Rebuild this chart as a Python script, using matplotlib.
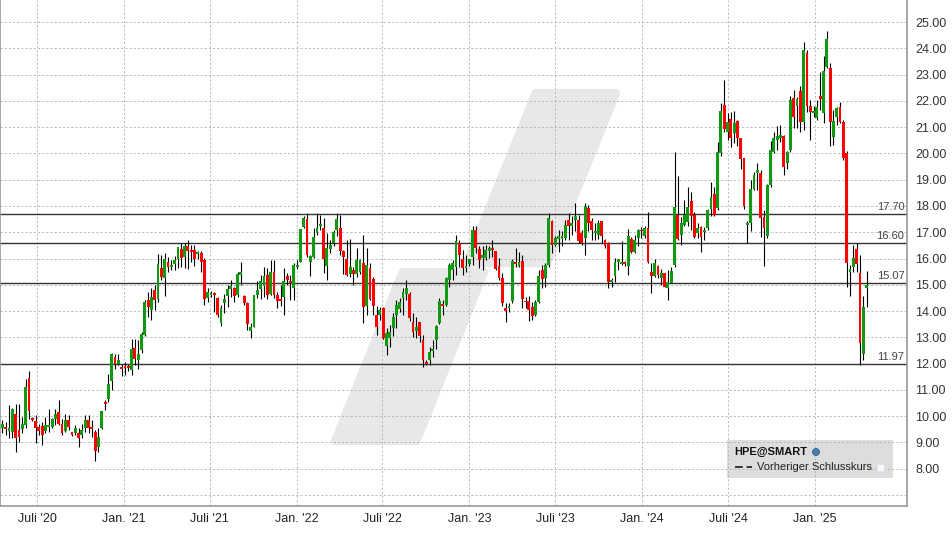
import matplotlib
matplotlib.use("Agg")
import matplotlib.pyplot as plt
import matplotlib.dates as mdates
from matplotlib.patches import Polygon, Rectangle, Ellipse
from matplotlib.lines import Line2D
import matplotlib.transforms as mtransforms
import pandas as pd
import numpy as np

# weekly HPE candles
opens = [9.53, 9.59, 9.43, 9.40, 10.10, 9.47, 9.50, 9.68, 11.45, 9.91,
         9.83, 9.59, 9.63, 9.43, 9.59, 9.59, 9.91, 10.14, 9.72, 9.43,
         9.85, 9.38, 9.34, 9.34, 9.28, 9.55, 9.87, 9.57, 9.38, 8.83,
         9.55, 10.50, 10.64, 11.33, 12.25, 11.97, 11.87, 11.91, 11.91, 11.75,
         12.60, 12.13, 12.52, 13.10, 14.43, 14.05, 14.81, 14.45, 15.63, 15.25,
         15.88, 15.69, 15.78, 15.97, 16.35, 16.05, 16.48, 16.33, 16.33, 16.16,
         16.20, 15.95, 14.49, 14.62, 14.70, 14.48, 13.54, 14.30, 14.58, 14.83,
         14.87, 14.62, 15.38, 14.58, 14.30, 13.26, 13.41, 14.62, 14.85, 14.96,
         15.38, 14.66, 15.47, 14.62, 14.45, 14.55, 15.34, 15.16, 14.87, 15.69,
         15.88, 17.19, 17.49, 15.85, 16.07, 16.96, 17.24, 17.15, 15.72, 16.35,
         16.58, 17.09, 17.15, 16.27, 15.97, 15.41, 15.57, 15.41, 15.47, 15.82,
         14.20, 15.63, 15.22, 13.86, 13.86, 14.11, 12.68, 12.97, 13.35, 13.86,
         14.07, 14.49, 14.66, 14.66, 13.60, 13.26, 13.57, 12.88, 12.08, 12.14,
         12.49, 12.88, 13.54, 14.27, 14.24, 15.19, 15.57, 15.69, 16.58, 15.97,
         15.63, 15.79, 16.07, 17.09, 16.35, 16.01, 16.01, 16.27, 16.39, 16.27,
         15.72, 15.25, 14.11, 14.11, 14.39, 15.88, 15.72, 15.92, 14.39, 14.39,
         14.15, 13.86, 14.36, 15.57, 15.25, 15.76, 17.44, 16.52, 16.73, 16.73,
         16.77, 17.47, 17.22, 17.47, 17.47, 16.96, 16.77, 17.91, 17.41, 16.96,
         16.90, 17.41, 16.71, 16.58, 15.12, 15.34, 15.88, 15.79, 15.88, 15.72,
         16.73, 16.23, 16.77, 17.07, 16.86, 17.15, 15.50, 15.34, 15.72, 15.25,
         15.44, 14.87, 15.08, 15.76, 17.66, 16.90, 17.28, 17.40, 18.20, 17.66,
         16.96, 17.19, 17.00, 17.15, 17.87, 18.46, 17.92, 20.01, 21.85, 20.83,
         21.30, 20.77, 21.22, 20.58, 19.82, 17.27, 17.37, 18.64, 19.25, 19.25,
         17.58, 16.84, 18.81, 20.07, 20.52, 20.58, 20.67, 19.63, 20.14, 22.10,
         21.81, 22.36, 21.21, 23.84, 21.81, 21.55, 21.34, 22.19, 21.55, 23.30,
         23.24, 20.62, 21.40, 21.76, 21.21, 20.03, 15.50, 15.67, 16.35, 15.44,
         12.37, 14.87]
highs = [9.85, 9.78, 10.44, 10.32, 10.48, 10.48, 9.97, 11.40, 11.72, 9.95,
         10.04, 9.72, 9.78, 9.97, 10.26, 9.93, 10.29, 10.63, 9.91, 10.10,
         10.06, 9.40, 9.66, 9.53, 9.72, 10.06, 10.06, 9.85, 9.47, 9.55,
         10.21, 10.60, 11.62, 12.40, 12.38, 12.38, 12.00, 12.06, 12.00, 12.95,
         12.95, 12.90, 13.20, 14.43, 14.74, 14.87, 15.00, 16.18, 16.14, 16.20,
         16.05, 15.95, 16.10, 16.44, 16.58, 16.58, 16.71, 16.52, 16.52, 16.27,
         16.27, 16.01, 14.87, 14.75, 14.72, 14.55, 14.24, 14.66, 15.00, 15.19,
         14.93, 15.50, 15.88, 14.62, 14.36, 13.54, 14.62, 15.13, 15.38, 15.69,
         15.63, 15.95, 15.95, 14.74, 15.00, 15.63, 15.44, 15.38, 15.82, 15.95,
         17.13, 17.60, 17.72, 16.14, 17.15, 17.72, 17.66, 17.53, 16.96, 16.71,
         17.09, 17.72, 17.66, 16.33, 16.71, 16.73, 15.69, 16.39, 16.00, 16.90,
         16.39, 15.82, 15.31, 14.20, 14.17, 14.15, 13.35, 13.48, 13.92, 14.43,
         14.49, 14.87, 15.19, 14.74, 13.92, 13.79, 13.60, 13.10, 12.14, 12.65,
         12.90, 13.48, 14.49, 14.43, 15.31, 15.82, 15.95, 16.90, 16.71, 16.33,
         16.14, 16.00, 17.22, 17.22, 16.48, 16.46, 16.52, 16.46, 16.71, 16.30,
         16.01, 15.44, 14.30, 14.30, 15.97, 16.39, 16.26, 16.14, 14.55, 14.58,
         14.36, 14.42, 15.57, 15.76, 15.82, 17.72, 17.47, 16.84, 17.09, 17.03,
         17.47, 17.75, 17.60, 18.10, 17.66, 17.09, 18.10, 18.04, 17.53, 17.34,
         17.47, 17.41, 16.73, 16.62, 15.25, 16.01, 15.99, 16.65, 15.92, 17.11,
         16.80, 16.90, 17.11, 17.20, 17.24, 17.78, 15.82, 15.97, 15.76, 15.62,
         15.44, 15.57, 15.69, 20.07, 19.14, 17.59, 18.23, 18.74, 18.54, 17.78,
         17.34, 17.25, 17.20, 17.90, 18.93, 18.74, 20.42, 21.91, 22.80, 21.53,
         21.56, 21.60, 21.28, 20.60, 19.84, 17.41, 19.00, 19.31, 19.63, 19.38,
         17.83, 18.85, 20.46, 20.83, 21.05, 21.10, 20.70, 20.10, 22.19, 22.42,
         22.15, 22.55, 24.26, 23.94, 22.04, 21.81, 22.04, 23.11, 23.69, 24.67,
         23.43, 21.66, 21.78, 21.97, 21.28, 20.10, 15.76, 16.52, 16.58, 16.14,
         14.58, 15.54]
lows = [9.34, 9.28, 9.15, 9.15, 8.64, 9.02, 9.34, 9.55, 9.91, 9.80,
        8.96, 9.28, 8.92, 9.34, 9.38, 9.53, 9.66, 9.68, 9.28, 9.40,
        9.47, 9.26, 9.28, 8.83, 9.15, 9.40, 9.34, 9.21, 8.29, 8.64,
        9.50, 10.22, 10.54, 10.99, 11.81, 11.94, 11.53, 11.56, 11.70, 11.56,
        11.94, 11.81, 12.40, 13.05, 13.79, 13.67, 14.05, 14.36, 15.19, 14.58,
        15.50, 15.57, 15.57, 15.63, 15.69, 15.63, 15.59, 15.85, 15.72, 15.97,
        15.50, 14.24, 14.36, 14.55, 13.98, 13.79, 13.44, 13.92, 14.17, 14.55,
        14.36, 14.55, 15.00, 14.24, 13.29, 12.97, 13.38, 14.49, 14.45, 14.55,
        14.45, 14.62, 14.49, 14.11, 14.20, 13.86, 15.00, 14.43, 14.43, 15.60,
        15.85, 17.15, 16.07, 15.34, 16.01, 16.90, 17.09, 15.44, 15.19, 16.20,
        16.46, 16.84, 16.14, 15.41, 15.34, 15.31, 15.00, 15.31, 15.40, 13.54,
        13.86, 14.43, 13.86, 13.10, 13.67, 12.93, 12.33, 12.65, 13.06, 13.35,
        13.98, 13.86, 14.43, 13.64, 13.03, 12.97, 12.84, 11.87, 11.93, 11.95,
        12.25, 12.55, 13.51, 13.86, 14.20, 14.91, 15.19, 15.38, 15.69, 15.38,
        15.50, 15.72, 15.76, 16.20, 15.63, 15.57, 15.95, 16.01, 16.07, 15.57,
        15.19, 14.20, 13.60, 13.98, 14.30, 15.69, 15.67, 14.11, 14.11, 13.64,
        13.66, 13.82, 14.30, 14.87, 14.91, 15.69, 16.20, 16.46, 16.26, 16.46,
        16.71, 16.71, 16.90, 17.03, 16.58, 16.52, 16.14, 17.03, 16.71, 16.71,
        16.73, 16.58, 16.39, 14.87, 14.93, 15.12, 15.55, 15.76, 15.70, 15.38,
        16.20, 16.20, 16.48, 16.78, 16.77, 15.82, 14.68, 15.30, 15.25, 14.99,
        14.93, 14.42, 15.06, 15.69, 16.71, 16.52, 17.22, 17.22, 17.09, 16.77,
        16.77, 16.26, 16.72, 17.10, 17.60, 17.60, 17.85, 19.91, 20.83, 20.52,
        20.26, 20.40, 20.30, 19.40, 17.88, 16.59, 17.03, 18.60, 18.62, 16.82,
        15.73, 16.78, 18.74, 20.01, 20.14, 20.45, 19.19, 19.40, 20.07, 20.96,
        20.95, 20.83, 20.90, 21.59, 20.52, 21.40, 21.28, 21.66, 21.15, 23.24,
        20.29, 20.32, 21.10, 21.15, 19.75, 14.93, 14.58, 15.50, 15.50, 11.95,
        12.12, 14.17]
closes = [9.72, 9.50, 9.53, 10.29, 9.17, 9.21, 9.72, 11.11, 10.19, 9.85,
          9.53, 9.45, 9.30, 9.68, 9.63, 9.91, 10.10, 9.72, 9.34, 9.87,
          9.59, 9.28, 9.53, 9.17, 9.47, 9.85, 9.53, 9.50, 8.67, 9.21,
          10.19, 10.45, 11.24, 12.38, 12.00, 12.15, 11.78, 11.85, 11.85, 12.57,
          12.16, 12.38, 13.13, 14.36, 14.15, 14.53, 14.43, 15.80, 15.29, 15.97,
          15.69, 15.76, 15.95, 16.42, 16.01, 16.46, 16.27, 16.23, 15.97, 16.24,
          15.88, 14.45, 14.74, 14.70, 14.60, 13.86, 14.11, 14.47, 14.83, 14.96,
          14.58, 15.42, 15.47, 14.30, 13.51, 13.41, 14.62, 14.81, 15.15, 15.34,
          14.62, 15.47, 14.62, 14.40, 14.40, 15.15, 15.19, 15.06, 15.76, 15.76,
          17.11, 17.53, 16.14, 16.10, 16.81, 17.15, 17.32, 15.97, 16.39, 16.52,
          17.00, 17.51, 16.27, 16.05, 15.38, 15.69, 15.41, 15.95, 15.95, 14.15,
          15.76, 14.45, 14.20, 13.41, 14.05, 12.97, 13.18, 13.22, 13.77, 14.24,
          14.36, 14.74, 14.87, 13.73, 13.22, 13.41, 13.06, 12.14, 11.97, 12.46,
          12.56, 13.44, 14.40, 14.20, 15.25, 15.76, 15.82, 16.65, 16.14, 15.63,
          15.69, 15.97, 17.09, 16.39, 15.95, 16.14, 16.33, 16.39, 16.33, 15.59,
          15.25, 14.30, 14.02, 14.20, 15.92, 15.79, 15.88, 14.45, 14.33, 14.05,
          13.82, 14.33, 15.34, 15.21, 15.76, 17.53, 16.52, 16.77, 16.86, 16.86,
          17.28, 17.24, 17.37, 17.62, 16.65, 16.58, 17.98, 17.34, 17.09, 17.03,
          17.34, 16.84, 16.46, 15.10, 15.19, 15.88, 15.97, 15.88, 15.79, 16.86,
          16.23, 16.71, 17.09, 17.03, 17.15, 15.88, 15.34, 15.82, 15.38, 15.46,
          14.93, 15.12, 15.54, 17.95, 16.73, 17.37, 17.66, 17.95, 17.62, 16.81,
          17.15, 16.83, 17.05, 17.85, 18.35, 17.66, 20.04, 21.60, 20.92, 21.18,
          20.58, 21.15, 20.58, 19.78, 18.01, 17.32, 18.64, 19.19, 19.38, 17.54,
          17.16, 18.81, 20.14, 20.58, 20.67, 20.71, 19.48, 20.07, 22.04, 21.40,
          22.06, 21.21, 23.94, 21.81, 21.59, 21.63, 21.78, 22.09, 23.15, 24.34,
          21.18, 21.25, 21.72, 21.18, 19.82, 15.82, 15.61, 16.01, 15.80, 12.78,
          14.15, 14.99]
weeks = pd.date_range("2020-04-19", periods=len(opens), freq="7D")

levels = [17.70, 16.60, 15.07, 11.97]
tick_dates = ["2020-07-01", "2021-01-01", "2021-07-01", "2022-01-01", "2022-07-01",
              "2023-01-01", "2023-07-01", "2024-01-01", "2024-07-01", "2025-01-01"]
tick_labels = ["Juli '20", "Jan. '21", "Juli '21", "Jan. '22", "Juli '22",
               "Jan. '23", "Juli '23", "Jan. '24", "Juli '24", "Jan. '25"]
y_ticks = list(range(8, 26))

plt.rcParams['font.family'] = ['Liberation Sans', 'DejaVu Sans']

W, H = 953, 536
fig = plt.figure(figsize=(W / 100, H / 100), dpi=100)
ax = fig.add_axes([0.0, 30 / H, 907 / W, 506 / H])

ref = pd.Timestamp("2020-07-01")
ax.set_xlim(mdates.date2num(ref - pd.Timedelta(days=78.2)),
            mdates.date2num(ref + pd.Timedelta(days=1839.5)))
ax.set_ylim(6.58, 25.84)


def px(x, y):
    return (x / W, 1 - y / H)


# background watermark (two slanted bars)
for pts in ([(535.7, 93), (616.1, 93), (547.3, 263), (466.9, 263)],
            [(402.7, 272), (484.1, 272), (416.5, 441), (335.1, 441)]):
    ax.add_patch(Polygon([px(*p) for p in pts], closed=True, transform=fig.transFigure,
                         facecolor="#e8e8e8", edgecolor="#e8e8e8", lw=6,
                         joinstyle="round", zorder=0.2, clip_on=False))

# legend box sits under the grid
ax.add_patch(Rectangle(px(727, 478), 166 / W, 38 / H, transform=fig.transFigure,
                       facecolor="#dddddd", edgecolor="none", zorder=0.4, clip_on=False))

# grid
xt = [mdates.date2num(pd.Timestamp(d)) for d in tick_dates]
for v in range(7, 26):
    ax.axhline(v, color="#b0b0b0", lw=0.6, ls=(0, (2.5, 2.5)), zorder=1)
for x in xt:
    ax.axvline(x, color="#b0b0b0", lw=0.6, ls=(0, (2.5, 2.5)), zorder=1)

# level lines with labels
lbl_tr = mtransforms.blended_transform_factory(ax.transAxes, ax.transData)
for lv in levels:
    ax.axhline(lv, color="#333333", lw=1.0, zorder=2)
    ax.text(0.997, lv + 0.08, f"{lv:.2f}", transform=lbl_tr, ha="right", va="bottom",
            fontsize=8, color="#444444", zorder=2)

# candles
xs = mdates.date2num(weeks)
o = np.array(opens); c = np.array(closes)
hi = np.array(highs); lo = np.array(lows)
up = c >= o
colors = np.where(up, "#119911", "#ff0000")
ax.vlines(xs, lo, hi, color="black", lw=0.8, zorder=3)
body_low = np.minimum(o, c)
body_h = np.maximum(np.abs(c - o), 0.07)
ax.bar(xs, body_h, bottom=body_low, width=6.0, color=colors, linewidth=0, zorder=4)

# axes styling
for side in ["left", "bottom", "right"]:
    ax.spines[side].set_color("#999999")
    ax.spines[side].set_linewidth(1.2)
ax.spines["top"].set_visible(False)

ax.set_xticks(xt)
ax.set_xticklabels(tick_labels)
ax.yaxis.tick_right()
ax.set_yticks(y_ticks)
ax.set_yticklabels([f"{v:.2f}" for v in y_ticks])
ax.tick_params(axis="x", length=0, pad=5, labelsize=9, labelcolor="#222222")
ax.tick_params(axis="y", length=0, pad=6, labelsize=9, labelcolor="#333333")

# legend contents
fig.text(*px(734, 452), "HPE@SMART", fontsize=8, fontweight="bold", color="#111111",
         ha="left", va="center")
fig.patches.append(Ellipse(px(816, 452), 7 / W, 7 / H, transform=fig.transFigure,
                           facecolor="#4a7db5", edgecolor="#2f5f90", lw=0.6))
fig.lines.append(Line2D([735 / W, 752 / W], [1 - 467 / H] * 2, transform=fig.transFigure,
                        color="#333333", lw=1.4, ls=(0, (4, 2))))
fig.text(*px(757, 467), "Vorheriger Schlusskurs", fontsize=8, color="#222222",
         ha="left", va="center")
fig.patches.append(Rectangle(px(877, 471), 7 / W, 7 / H, transform=fig.transFigure,
                             facecolor="#f5f6ff", edgecolor="#e0e0ea", lw=0.5))

fig.savefig("out.png", dpi=100)
